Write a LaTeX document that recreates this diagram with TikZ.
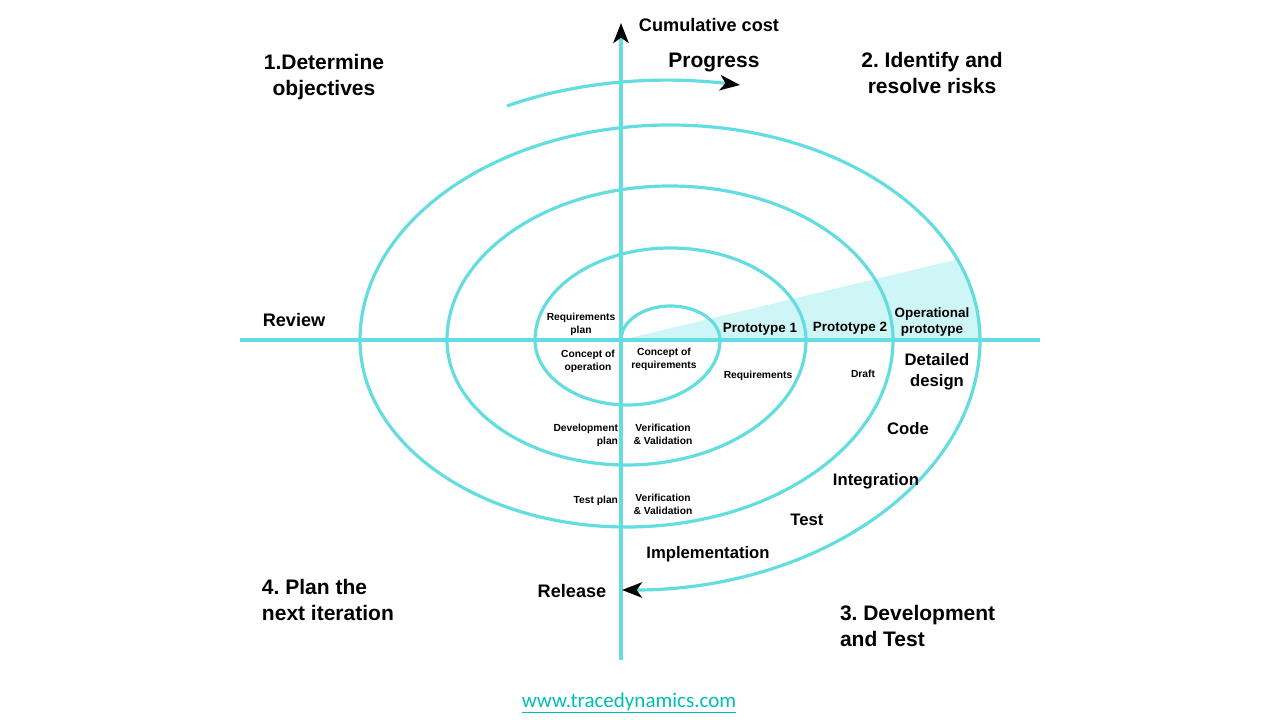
\documentclass[tikz,border=0pt]{standalone}
\usepackage{fontspec}
\setmainfont{Liberation Sans}
\newfontfamily\urlfont{Carlito}
\usetikzlibrary{arrows.meta}
\definecolor{spiralcyan}{RGB}{100,221,224}
\definecolor{wedgecyan}{RGB}{206,246,246}
\definecolor{urlcyan}{RGB}{0,190,180}
\frenchspacing

\begin{document}
\begin{tikzpicture}[x=0.75pt,y=0.75pt,inner sep=0pt,outer sep=0pt,
spiralline/.style={draw=spiralcyan,line width=2.4pt},
blacktip/.style={-{Stealth[length=15pt,width=11.5pt,inset=4pt,color=black]}},
phase/.style={font=\bfseries\fontsize{15.75}{20}\selectfont,align=center},
axislabel/.style={font=\bfseries\fontsize{13.6}{16}\selectfont},
steplabel/.style={font=\bfseries\fontsize{12.5}{15.75}\selectfont,align=center},
protolabel/.style={font=\bfseries\fontsize{10.1}{12}\selectfont,align=center},
smalllabel/.style={font=\bfseries\fontsize{7.7}{9.75}\selectfont,align=center}]
\useasboundingbox (-621,-380) rectangle (659,340);

\coordinate (O) at (0,0);
\coordinate (top) at (0,317);
\coordinate (bottom) at (0,-320);
\coordinate (left) at (-381,0);
\coordinate (right) at (419,0);
\coordinate (pstart) at (-114,234);
\coordinate (pend) at (119,255);

% shaded wedge of the prototypes
\fill[wedgecyan] (O) -- ([shift={(49,0)}]22:310 and 215)
  arc[start angle=22,end angle=0,x radius=310,y radius=215] -- cycle;

% axes
\draw[spiralline] (left) -- (right);
\draw[spiralline,blacktip] (bottom) -- (top);

% the spiral
\draw[spiralline,blacktip] (O)
  arc[start angle=180,end angle=0,x radius=49.5,y radius=34]
  arc[start angle=0,end angle=-180,x radius=92.5,y radius=65]
  arc[start angle=180,end angle=0,x radius=135.5,y radius=92]
  arc[start angle=0,end angle=-180,x radius=179.5,y radius=125]
  arc[start angle=180,end angle=0,x radius=223,y radius=154]
  arc[start angle=0,end angle=-180,x radius=266.5,y radius=187]
  arc[start angle=180,end angle=0,x radius=310,y radius=215]
  arc[start angle=0,end angle=-90,x radius=358,y radius=250];

% progress
\draw[spiralline,blacktip] (pstart) .. controls (-40,260) and (40,264) .. (pend);

\draw (88,315) node[axislabel] (cost) {Cumulative cost};
\draw (93,277) node[phase] (progress) {Progress};
\draw (-327,20) node[axislabel] (review) {Review};
\draw (-49,-251) node[axislabel] (release) {Release};

% quadrants
\draw (-297,263) node[phase] (q1) {1.Determine\\objectives};
\draw (311,267) node[phase] (q2) {2. Identify and\\resolve risks};
\draw (219,-286) node[phase,anchor=west,align=left] (q3) {3. Development\\and Test};
\draw (-359,-260) node[phase,anchor=west,align=left] (q4) {4. Plan the\\next iteration};

% development steps
\draw (316,-32) node[steplabel] (design) {Detailed\\design};
\draw (287,-89) node[steplabel] (code) {Code};
\draw (255,-141) node[steplabel] (integr) {Integration};
\draw (186,-180) node[steplabel] (test) {Test};
\draw (87,-214) node[steplabel] (impl) {Implementation};

% prototypes
\draw (139,11) node[protolabel] (proto1) {Prototype 1};
\draw (229,12) node[protolabel] (proto2) {Prototype 2};
\draw (311,18) node[protolabel] (proto3) {Operational\\prototype};

% small labels
\draw (-40,16) node[smalllabel] (reqplan) {Requirements\\plan};
\draw (-33,-21) node[smalllabel] (conop) {Concept of\\operation};
\draw (43,-19) node[smalllabel] (conreq) {Concept of\\requirements};
\draw (137,-36) node[smalllabel] (req) {Requirements};
\draw (242,-34) node[smalllabel] (draft) {Draft};
\draw (-3,-95) node[smalllabel,anchor=east,align=right] (devplan) {Development\\plan};
\draw (42,-94) node[smalllabel] (vv1) {Verification\\\& Validation};
\draw (-3,-161) node[smalllabel,anchor=east,align=right] (testplan) {Test plan};
\draw (42,-164) node[smalllabel] (vv2) {Verification\\\& Validation};

\draw (8,-363) node[font=\urlfont\fontsize{15.75}{18}\selectfont,text=urlcyan] (url) {\underline{www.tracedynamics.com}};
\end{tikzpicture}
\end{document}
